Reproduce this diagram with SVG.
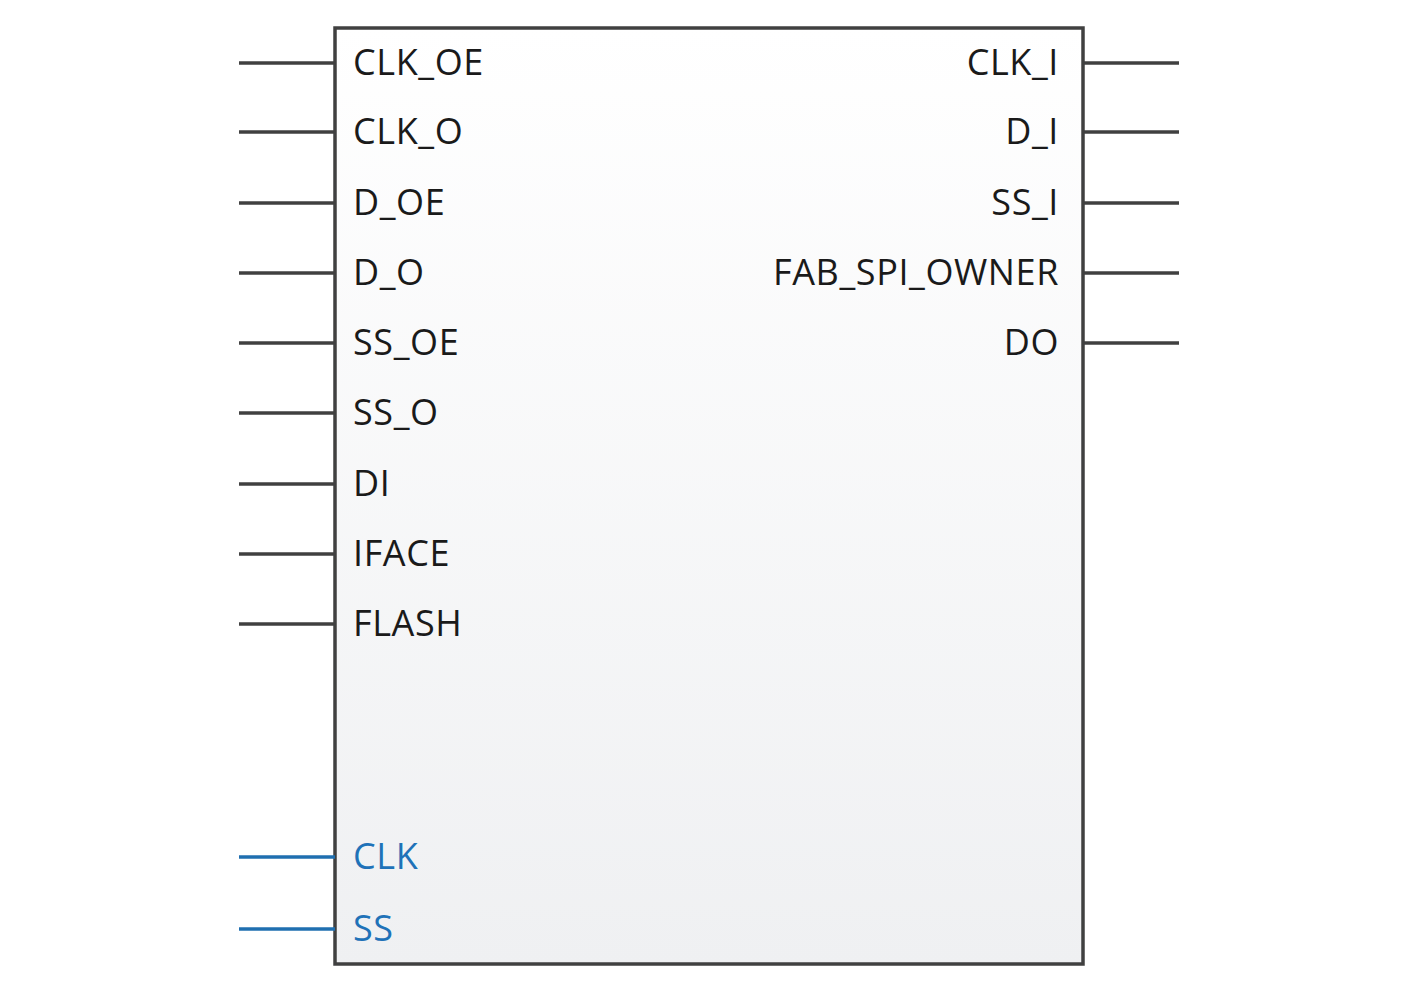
<svg xmlns="http://www.w3.org/2000/svg" width="1403" height="992" viewBox="0 0 1403 992">
<defs>
<linearGradient id="bg" x1="0" y1="0" x2="0" y2="1">
<stop offset="0" stop-color="#ffffff"/>
<stop offset="1" stop-color="#eff0f2"/>
</linearGradient>
<style>
.pin{stroke:#404040;stroke-width:3.5;fill:none}
.pinb{stroke:#1f6fb0;stroke-width:3.5;fill:none}
.lbl{font-family:"Open Sans","Noto Sans",sans-serif;font-size:36px;letter-spacing:0.6px;fill:#1a1a1a}
.lblb{font-family:"Open Sans","Noto Sans",sans-serif;font-size:36px;letter-spacing:0.6px;fill:#1f72b8}
.r{text-anchor:end}
</style>
</defs>
<rect width="1403" height="992" fill="#ffffff"/>
<g id="block">
<rect x="335" y="28" width="748" height="936" fill="url(#bg)" stroke="#404040" stroke-width="3.5"/>
</g>
<g id="connectors">
<line class="pin" x1="239" y1="63" x2="335" y2="63"/>
<line class="pin" x1="239" y1="132" x2="335" y2="132"/>
<line class="pin" x1="239" y1="203" x2="335" y2="203"/>
<line class="pin" x1="239" y1="273" x2="335" y2="273"/>
<line class="pin" x1="239" y1="343" x2="335" y2="343"/>
<line class="pin" x1="239" y1="413" x2="335" y2="413"/>
<line class="pin" x1="239" y1="484" x2="335" y2="484"/>
<line class="pin" x1="239" y1="554" x2="335" y2="554"/>
<line class="pin" x1="239" y1="624" x2="335" y2="624"/>
<line class="pinb" x1="239" y1="857" x2="335" y2="857"/>
<line class="pinb" x1="239" y1="929" x2="335" y2="929"/>
<line class="pin" x1="1083" y1="63" x2="1179" y2="63"/>
<line class="pin" x1="1083" y1="132" x2="1179" y2="132"/>
<line class="pin" x1="1083" y1="203" x2="1179" y2="203"/>
<line class="pin" x1="1083" y1="273" x2="1179" y2="273"/>
<line class="pin" x1="1083" y1="343" x2="1179" y2="343"/>
</g>
<g id="labels">
<text class="lbl" x="353" y="75">CLK_OE</text>
<text class="lbl" x="353" y="144">CLK_O</text>
<text class="lbl" x="353" y="215">D_OE</text>
<text class="lbl" x="353" y="285">D_O</text>
<text class="lbl" x="353" y="355">SS_OE</text>
<text class="lbl" x="353" y="425">SS_O</text>
<text class="lbl" x="353" y="496">DI</text>
<text class="lbl" x="353" y="566">IFACE</text>
<text class="lbl" x="353" y="636">FLASH</text>
<text class="lblb" x="353" y="869">CLK</text>
<text class="lblb" x="353" y="941">SS</text>
<text class="lbl r" x="1059" y="75">CLK_I</text>
<text class="lbl r" x="1059" y="144">D_I</text>
<text class="lbl r" x="1059" y="215">SS_I</text>
<text class="lbl r" x="1059" y="285">FAB_SPI_OWNER</text>
<text class="lbl r" x="1059" y="355">DO</text>
</g>
</svg>
